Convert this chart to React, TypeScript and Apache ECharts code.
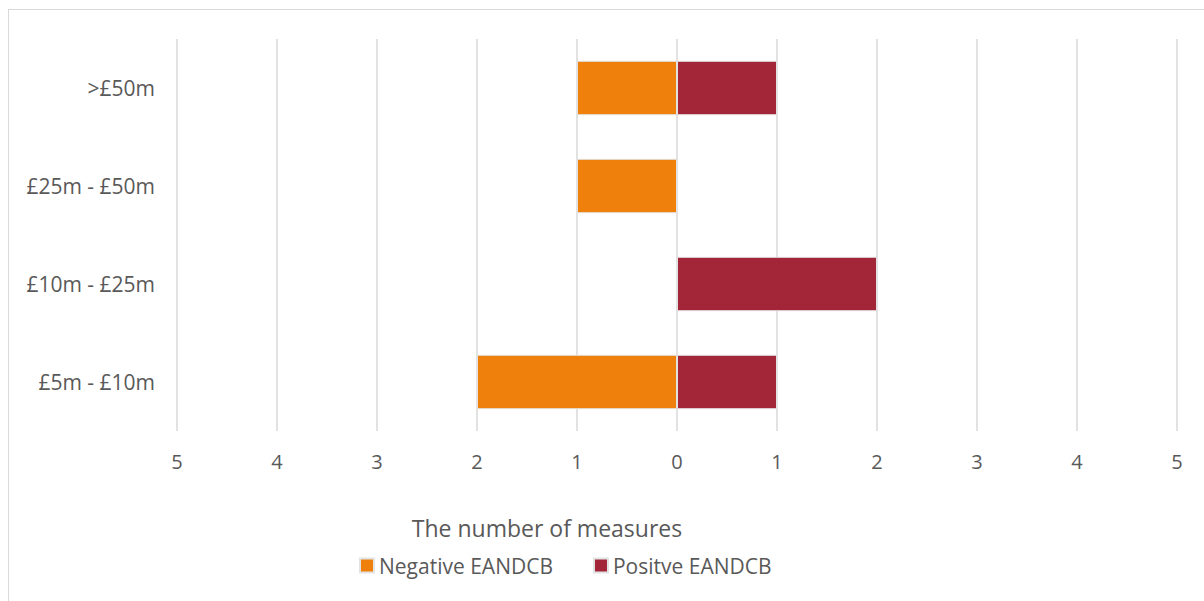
import React, { useEffect, useRef } from "react";
import * as echarts from "echarts";

// Size bands, bottom to top on the value axis
const categories = ["£5m - £10m", "£10m - £25m", "£25m - £50m", ">£50m"];
// Counts of measures per band
const negativeCounts = [2, 0, 1, 1];
const positiveCounts = [1, 2, 0, 1];
const axisTitle = "The number of measures";
const seriesNames = ["Negative EANDCB", "Positve EANDCB"];

const FONT = "'Open Sans', 'Noto Sans', sans-serif";
const TEXT = "#595959";

export default function App() {
  const ref = useRef<HTMLDivElement>(null);

  useEffect(() => {
    if (!ref.current) return;
    const chart = echarts.init(ref.current, null, { renderer: "svg" });
    chart.setOption({
      animation: false,
      textStyle: { fontFamily: FONT },
      grid: { left: 168, right: 27, top: 29, bottom: 170 },
      legend: {
        left: 350,
        top: 545,
        padding: 0,
        itemWidth: 14,
        itemHeight: 14,
        itemGap: 40,
        icon: "rect",
        textStyle: { color: TEXT, fontSize: 21, fontFamily: FONT },
        data: seriesNames,
      },
      graphic: [
        {
          type: "text",
          x: 538,
          y: 518,
          style: {
            text: axisTitle,
            fill: TEXT,
            fontSize: 23,
            fontFamily: FONT,
            align: "center",
            verticalAlign: "middle",
          },
        },
      ],
      xAxis: {
        type: "value",
        min: -5,
        max: 5,
        interval: 1,
        axisLine: { show: false },
        axisTick: { show: false },
        splitLine: { lineStyle: { color: "#d9d9d9", width: 1.5 } },
        axisLabel: {
          color: TEXT,
          fontSize: 20,
          margin: 20,
          formatter: (v: number) => String(Math.abs(v)),
        },
      },
      yAxis: {
        type: "category",
        data: categories,
        axisLine: { show: false },
        axisTick: { show: false },
        axisLabel: { color: TEXT, fontSize: 21, margin: 22 },
      },
      series: [
        {
          name: seriesNames[0],
          type: "bar",
          stack: "total",
          barWidth: "55.5%",
          data: negativeCounts.map((v) => -v),
          itemStyle: { color: "#EE800B", borderColor: "#e3e3e3", borderWidth: 1 },
        },
        {
          name: seriesNames[1],
          type: "bar",
          stack: "total",
          barWidth: "55.5%",
          data: positiveCounts,
          itemStyle: { color: "#A32638", borderColor: "#e3e3e3", borderWidth: 1 },
        },
      ],
    });
    return () => chart.dispose();
  }, []);

  return (
    <div
      style={{
        position: "absolute",
        left: 8,
        top: 9,
        width: 1196,
        height: 592,
        boxSizing: "border-box",
        borderTop: "1px solid #d9d9d9",
        borderLeft: "1px solid #d9d9d9",
        background: "#fff",
      }}
    >
      <div ref={ref} style={{ width: 1195, height: 591 }} />
    </div>
  );
}
